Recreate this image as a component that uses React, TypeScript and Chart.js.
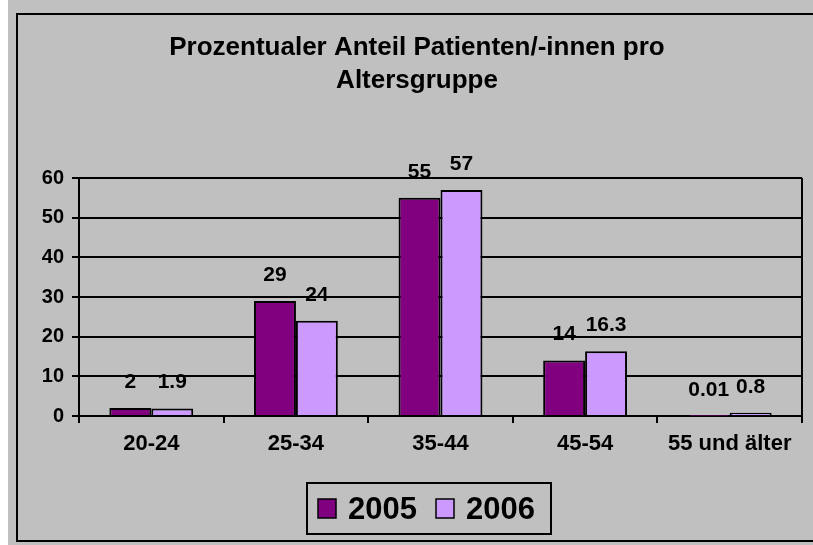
import React, { useEffect, useRef } from "react";
import { Chart, registerables } from "chart.js";

Chart.register(...registerables);

const categories = ["20-24", "25-34", "35-44", "45-54", "55 und älter"];
const series2005 = [2, 29, 55, 14, 0.01];
const series2006 = [1.9, 24, 57, 16.3, 0.8];
const seriesNames = ["2005", "2006"];
const titleLines = ["Prozentualer Anteil Patienten/-innen pro", "Altersgruppe"];
const yTicks = [0, 10, 20, 30, 40, 50, 60];

const FONT = "'Liberation Sans', Arial, sans-serif";
const COLORS = ["#800080", "#CC99FF"];
const BG = "#C0C0C0";

const framePlugin = {
  id: "frame",
  beforeDraw(chart: any) {
    const ctx = chart.ctx;
    ctx.save();
    ctx.fillStyle = BG;
    ctx.fillRect(0, 0, chart.width, chart.height);
    ctx.restore();
  },
  afterDraw(chart: any) {
    const ctx = chart.ctx;
    const ca = chart.chartArea;
    ctx.save();
    ctx.strokeStyle = "#000";
    ctx.lineWidth = 2;
    ctx.strokeRect(9, 14, chart.width + 20, 527);
    ctx.beginPath();
    ctx.moveTo(ca.right, ca.top);
    ctx.lineTo(ca.right, ca.bottom + 7);
    ctx.stroke();
    ctx.fillStyle = "#000";
    ctx.font = `bold 26px ${FONT}`;
    ctx.textAlign = "center";
    ctx.textBaseline = "middle";
    titleLines.forEach((t, i) => ctx.fillText(t, 409, 48 + i * 33));
    ctx.lineWidth = 2;
    ctx.strokeRect(299, 483, 244, 51);
    const xs = [310, 428];
    seriesNames.forEach((name, i) => {
      ctx.fillStyle = COLORS[i];
      ctx.fillRect(xs[i], 499, 18, 19);
      ctx.lineWidth = 1.5;
      ctx.strokeStyle = "#000";
      ctx.strokeRect(xs[i], 499, 18, 19);
      ctx.fillStyle = "#000";
      ctx.font = `bold 31px ${FONT}`;
      ctx.textAlign = "left";
      ctx.textBaseline = "alphabetic";
      ctx.fillText(name, xs[i] + 30, 519);
    });
    ctx.restore();
  },
  afterDatasetsDraw(chart: any) {
    const ctx = chart.ctx;
    ctx.save();
    ctx.fillStyle = "#000";
    ctx.font = `bold 21px ${FONT}`;
    ctx.textAlign = "center";
    ctx.textBaseline = "middle";
    chart.data.datasets.forEach((ds: any, di: number) => {
      const meta = chart.getDatasetMeta(di);
      meta.data.forEach((el: any, i: number) => {
        ctx.fillText(String(ds.data[i]), el.x, el.y - 26);
      });
    });
    ctx.restore();
  },
};

export default function App() {
  const ref = useRef<HTMLCanvasElement>(null);
  useEffect(() => {
    if (!ref.current) return;
    const chart = new Chart(ref.current, {
      type: "bar",
      data: {
        labels: categories,
        datasets: [
          { label: seriesNames[0], data: series2005, backgroundColor: COLORS[0], borderColor: "#000", borderWidth: 2 },
          { label: seriesNames[1], data: series2006, backgroundColor: COLORS[1], borderColor: "#000", borderWidth: 2 },
        ],
      },
      options: {
        animation: false,
        responsive: false,
        maintainAspectRatio: false,
        layout: { padding: { top: 178, left: 0, right: 11, bottom: 79 } },
        plugins: { legend: { display: false }, title: { display: false }, tooltip: { enabled: false } },
        datasets: { bar: { barPercentage: 1, categoryPercentage: 0.58 } },
        scales: {
          x: {
            grid: { display: true, drawOnChartArea: false, drawTicks: true, tickLength: 7, color: "#000", lineWidth: 2, offset: true },
            border: { color: "#000", width: 2 },
            ticks: { color: "#000", font: { family: FONT, size: 22, weight: "bold" }, padding: 8, maxRotation: 0, autoSkip: false },
            afterFit: (s: any) => { s.height = 50; },
          },
          y: {
            min: 0,
            max: 60,
            afterBuildTicks: (s: any) => { s.ticks = yTicks.map((v) => ({ value: v })); },
            grid: { color: "#000", lineWidth: 2, tickLength: 7, drawTicks: true },
            border: { color: "#000", width: 2 },
            ticks: { color: "#000", font: { family: FONT, size: 20, weight: "bold" }, padding: 8 },
            afterFit: (s: any) => { s.width = 71; },
          },
        },
      },
      plugins: [framePlugin],
    });
    return () => chart.destroy();
  }, []);
  return (
    <div style={{ position: "absolute", left: 8, top: 0, width: 805, height: 545 }}>
      <canvas ref={ref} width={805} height={545} style={{ display: "block" }} />
    </div>
  );
}
